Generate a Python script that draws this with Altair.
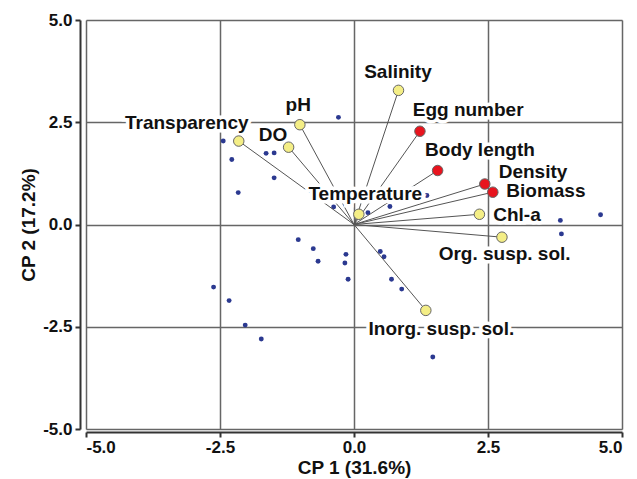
import altair as alt
import pandas as pd

# Observation scores (small blue dots)
obs_x = [-0.29, -2.44, -2.28, -1.64, -1.49, -1.49, -2.16, 1.36, -0.38, 0.67, 0.26,
         -1.04, -0.76, -0.67, -0.15, -0.17, -0.11, 0.49, 0.56, 0.70, 0.89,
         3.85, 4.60, 3.87, 1.47, -2.62, -2.33, -2.03, -1.73]
obs_y = [2.62, 2.04, 1.59, 1.74, 1.75, 1.14, 0.78, 0.71, 0.43, 0.44, 0.29,
         -0.37, -0.59, -0.90, -0.73, -0.94, -1.34, -0.66, -0.79, -1.34, -1.58,
         0.10, 0.24, -0.23, -3.24, -1.53, -1.86, -2.46, -2.80]

# Variable loadings
var_names = ["Transparency", "DO", "pH", "Salinity", "Egg number", "Body length",
             "Density", "Biomass", "Chl-a", "Temperature", "Org. susp. sol.",
             "Inorg. susp. sol."]
var_x = [-2.15, -1.22, -1.01, 0.83, 1.23, 1.56, 2.44, 2.59, 2.34, 0.09, 2.76, 1.34]
var_y = [2.04, 1.89, 2.44, 3.28, 2.28, 1.32, 0.99, 0.79, 0.25, 0.25, -0.31, -2.10]
var_group = ["env", "env", "env", "env", "bio", "bio", "bio", "bio", "env", "env",
             "env", "env"]
label_x = [-3.12, -1.51, -1.04, 0.82, 2.13, 2.35, 3.34, 3.58, 3.04, 0.21, 2.81, 1.63]
label_y = [2.49, 2.20, 2.93, 3.72, 2.79, 1.81, 1.28, 0.81, 0.24, 0.75, -0.73, -2.55]

ticks = [-5, -2.5, 0, 2.5, 5]

obs = pd.DataFrame({"x": obs_x, "y": obs_y})
var = pd.DataFrame({"name": var_names, "x": var_x, "y": var_y, "group": var_group,
                    "lx": label_x, "ly": label_y, "ox": [0.0] * len(var_names),
                    "oy": [0.0] * len(var_names)})

xs = alt.Scale(domain=[-5, 5], nice=False, zero=False)
ys = alt.Scale(domain=[-5, 5], nice=False, zero=False)

label_expr = ("datum.value < 0 ? '-' + format(-datum.value, '.1f') "
              ": format(datum.value, '.1f')")

axis_common = dict(values=ticks, labelExpr=label_expr, labelFont="Liberation Sans",
                   labelFontWeight="bold", labelFontSize=17, labelColor="#111",
                   titleFont="Liberation Sans", titleFontWeight="bold",
                   titleFontSize=19, titleColor="#111", domainColor="#333",
                   domainWidth=2, tickColor="#333", tickWidth=2, tickSize=5,
                   grid=True, gridColor="#666", gridWidth=1.5)

x_axis = alt.Axis(title="CP 1 (31.6%)", offset=3, titlePadding=3, labelPadding=2,
                  **axis_common)
y_axis = alt.Axis(title="CP 2 (17.2%)", offset=6, titlePadding=4, labelPadding=3,
                  **axis_common)

base_obs = alt.Chart(obs).mark_point(filled=True, size=24, color="#2b3990",
                                     opacity=1).encode(
    x=alt.X("x:Q", scale=xs, axis=x_axis),
    y=alt.Y("y:Q", scale=ys, axis=y_axis),
)

rules = alt.Chart(var).mark_rule(color="#555", strokeWidth=1).encode(
    x=alt.X("ox:Q", scale=xs), y=alt.Y("oy:Q", scale=ys), x2="x:Q", y2="y:Q")

halo = alt.Chart(var).mark_text(font="Liberation Sans", fontWeight="bold",
                                fontSize=19, stroke="white", strokeWidth=7,
                                fill="white", align="center",
                                baseline="middle").encode(
    x=alt.X("lx:Q", scale=xs), y=alt.Y("ly:Q", scale=ys), text="name:N")

labels = alt.Chart(var).mark_text(font="Liberation Sans", fontWeight="bold",
                                  fontSize=19, color="#111", align="center",
                                  baseline="middle").encode(
    x=alt.X("lx:Q", scale=xs), y=alt.Y("ly:Q", scale=ys), text="name:N")

circles = alt.Chart(var).mark_point(filled=True, size=110, stroke="#666",
                                    strokeWidth=1, opacity=1).encode(
    x=alt.X("x:Q", scale=xs), y=alt.Y("y:Q", scale=ys),
    fill=alt.Fill("group:N", scale=alt.Scale(domain=["env", "bio"],
                                             range=["#f4ee86", "#e8141e"]),
                  legend=None),
)

chart = alt.layer(base_obs, rules, halo, labels, circles).properties(
    width=536, height=409,
    autosize=alt.AutoSizeParams(type="none"),
    padding={"left": 86, "top": 20, "right": 15, "bottom": 50},
).configure_view(stroke="#555", strokeWidth=2).configure(background="white")

chart.save("out.html", embed_options={"renderer": "svg", "actions": False})
